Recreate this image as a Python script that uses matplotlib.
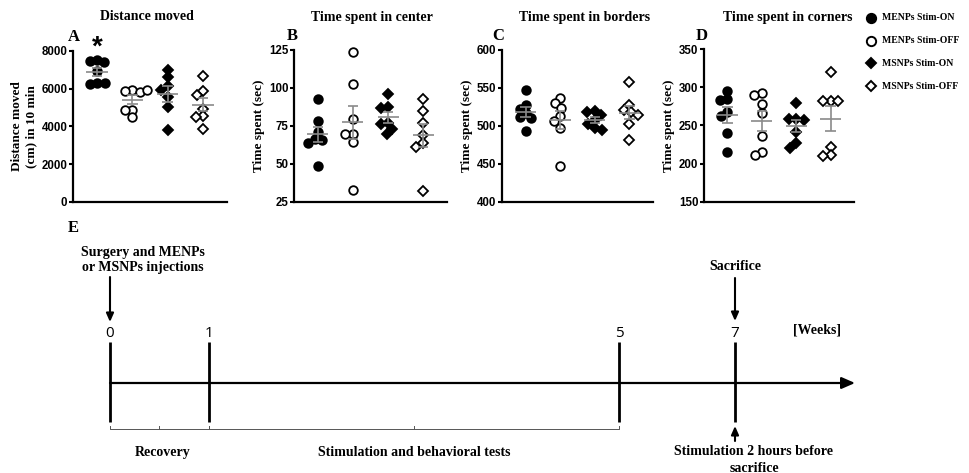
import numpy as np
import matplotlib
matplotlib.use("Agg")
from matplotlib import pyplot as plt

# groups and their marker styles
groups = ["MENPs Stim-ON", "MENPs Stim-OFF", "MSNPs Stim-ON", "MSNPs Stim-OFF"]

# A - distance moved (cm) in 10 min
dist_menp_on = [7500, 7450, 7400, 6950, 6300, 6250, 6300]
dist_menp_off = [5950, 5900, 5850, 5950, 4900, 4850, 4500]
dist_msnp_on = [7000, 6600, 6130, 5950, 5560, 5030, 3800]
dist_msnp_off = [6700, 5900, 5650, 4950, 4540, 4500, 3890]

# B - time spent in center (sec)
center_menp_on = [92.5, 78, 71, 66.5, 66, 64, 49]
center_menp_off = [123.5, 102.5, 79.5, 69.5, 69.5, 64.5, 33]
center_msnp_on = [96, 87.5, 87, 77, 76, 73, 69.5]
center_msnp_off = [93, 85, 77, 69, 63.5, 61.5, 32.5]

# C - time spent in borders (sec)
border_menp_on = [547, 528, 522, 517, 512, 510, 494]
border_menp_off = [537, 530, 524, 513, 507, 497, 447]
border_msnp_on = [520, 519, 514, 508, 503, 497, 495]
border_msnp_off = [558, 528, 521, 518, 514, 502, 482]

# D - time spent in corners (sec)
corner_menp_on = [295, 285, 283, 268, 262, 240, 216]
corner_menp_off = [292, 290, 278, 266, 236, 216, 211]
corner_msnp_on = [279, 259, 258, 257, 242, 227, 221]
corner_msnp_off = [320, 282, 282, 282, 222, 212, 210]

panels = [
    ("A", "Distance moved", "Distance moved\n(cm) in 10 min",
     [dist_menp_on, dist_menp_off, dist_msnp_on, dist_msnp_off], (0, 8000), [0, 2000, 4000, 6000, 8000]),
    ("B", "Time spent in center", "Time spent (sec)",
     [center_menp_on, center_menp_off, center_msnp_on, center_msnp_off], (25, 125), [25, 50, 75, 100, 125]),
    ("C", "Time spent in borders", "Time spent (sec)",
     [border_menp_on, border_menp_off, border_msnp_on, border_msnp_off], (400, 600), [400, 450, 500, 550, 600]),
    ("D", "Time spent in corners", "Time spent (sec)",
     [corner_menp_on, corner_menp_off, corner_msnp_on, corner_msnp_off], (150, 350), [150, 200, 250, 300, 350]),
]

# timeline (panel E)
weeks = ["0", "1", "5", "7"]
week_x = [110, 209, 619, 735]   # schematic, not to scale
periods = ["Recovery", "Stimulation and behavioral tests"]

styles = [("o", "black", 6.2), ("o", "white", 6.2), ("D", "black", 5.0), ("D", "white", 5.0)]

SERIF = "Liberation Serif"
SANS = "Liberation Sans"
W, H = 970, 473

fig = plt.figure(figsize=(W / 100, H / 100), dpi=100)


def rect(l, r, t, b):
    return [l / W, 1 - b / H, (r - l) / W, (b - t) / H]


def swarm(ax, xc, vals, diam):
    pts = ax.transData.transform(np.column_stack([np.full(len(vals), xc), vals]))
    placed = []
    xs = []
    for y in pts[:, 1]:
        cands = [0.0]
        for cx, cy in placed:
            dy = abs(y - cy)
            if dy < diam:
                w = np.sqrt(diam ** 2 - dy ** 2)
                cands += [cx - w, cx + w]
        cands.sort(key=abs)
        for c in cands:
            if all((c - cx) ** 2 + (y - cy) ** 2 >= diam ** 2 - 1e-6 for cx, cy in placed):
                break
        placed.append((c, y))
        xs.append(pts[0, 0] + c)
    back = ax.transData.inverted().transform(np.column_stack([xs, pts[:, 1]]))
    return back[:, 0]


rects = [rect(73, 227, 51, 202), rect(294, 447, 50, 202), rect(502, 653, 50, 202), rect(704, 854, 49, 202)]
title_xy = [(147, 17), (372, 17), (585, 17), (788, 17)]
letter_xy = [(74, 37), (292, 36), (498, 36), (702, 36)]

# overlay in pixel coordinates for labels, legend and timeline
ov = fig.add_axes([0, 0, 1, 1], zorder=-1)
ov.set_xlim(0, W)
ov.set_ylim(H, 0)
ov.axis("off")

for (letter, title, ylab, data, ylim, yticks), r, txy, lxy in zip(panels, rects, title_xy, letter_xy):
    ax = fig.add_axes(r)
    ax.set_xlim(-0.68, 3.68)
    ax.set_ylim(*ylim)
    for i, vals in enumerate(data):
        m, fc, ms = styles[i]
        xs = swarm(ax, i, vals, 7.5)
        ax.plot(xs, vals, m, ms=ms, mfc=fc, mec="black", mew=1.3, ls="none", zorder=3, clip_on=False)
        mean = np.mean(vals)
        sem = np.std(vals, ddof=1) / np.sqrt(len(vals))
        ax.hlines(mean, i - 0.3, i + 0.3, color="#8a8a8a", lw=1.2, zorder=4)
        ax.hlines([mean - sem, mean + sem], i - 0.15, i + 0.15, color="#8a8a8a", lw=1.2, zorder=4)
        ax.vlines(i, mean - sem, mean + sem, color="#8a8a8a", lw=1.2, zorder=4)
    ax.spines[["top", "right"]].set_visible(False)
    ax.spines[["left", "bottom"]].set_linewidth(1.6)
    ax.set_xticks([])
    ax.set_yticks(yticks)
    ax.tick_params(axis="y", length=3, width=1.5, pad=1, labelsize=8.3)
    for t in ax.get_yticklabels():
        t.set_fontfamily(SANS)
        t.set_fontweight("bold")
    ax.set_ylabel(ylab, fontfamily=SERIF, fontweight="bold", fontsize=9.5, labelpad=3)
    ov.text(*txy, title, ha="center", va="center", fontfamily=SERIF, fontweight="bold", fontsize=10)
    ov.text(*lxy, letter, ha="center", va="center", fontfamily=SERIF, fontweight="bold", fontsize=12)
    if letter == "A":
        ov.text(97, 48, "*", ha="center", va="center", fontfamily=SANS, fontweight="bold", fontsize=20)

for k, (name, (m, fc, ms)) in enumerate(zip(groups, styles)):
    y = 18 + k * 22.7
    ov.plot(871, y, m, ms=ms + 0.5, mfc=fc, mec="black", mew=1.4)
    ov.text(882, y, name, ha="left", va="center", fontfamily=SERIF, fontweight="bold", fontsize=7)

ov.text(73, 228, "E", ha="center", va="center", fontfamily=SERIF, fontweight="bold", fontsize=12)

line_y = 383
ov.annotate("", xy=(855, line_y), xytext=(week_x[0], line_y),
            arrowprops=dict(arrowstyle="-|>,head_length=0.8,head_width=0.35", color="black", lw=1.6,
                            shrinkA=0, shrinkB=0))
for wk, x in zip(weeks, week_x):
    ov.plot([x, x], [342, 422], color="black", lw=2.0, solid_capstyle="butt")
    ov.text(x, 333, wk, ha="center", va="center", fontfamily="Open Sans", fontsize=11)
ov.text(817, 330, "[Weeks]", ha="center", va="center", fontfamily=SERIF, fontweight="bold", fontsize=10)

# brackets under the periods
for (a, b), lab in zip([(week_x[0], week_x[1]), (week_x[1], week_x[2])], periods):
    ov.plot([a, a, b, b], [426, 429, 429, 426], color="#555555", lw=0.7)
    ov.plot([(a + b) / 2] * 2, [429, 426], color="#555555", lw=0.7)
    ov.text((a + b) / 2 - (0 if lab != "Recovery" else -3), 452, lab, ha="center", va="center",
            fontfamily=SERIF, fontweight="bold", fontsize=10)

arrow = dict(arrowstyle="-|>,head_length=0.5,head_width=0.22", color="black", lw=1.5, shrinkA=0, shrinkB=0)
ov.text(143, 252, "Surgery and MENPs", ha="center", va="center", fontfamily=SERIF, fontweight="bold", fontsize=10)
ov.text(143, 267, "or MSNPs injections", ha="center", va="center", fontfamily=SERIF, fontweight="bold", fontsize=10)
ov.annotate("", xy=(week_x[0], 322), xytext=(week_x[0], 277), arrowprops=arrow)

ov.text(week_x[3], 266, "Sacrifice", ha="center", va="center", fontfamily=SERIF, fontweight="bold", fontsize=10)
ov.annotate("", xy=(week_x[3], 321), xytext=(week_x[3], 278), arrowprops=arrow)

ov.annotate("", xy=(week_x[3], 426), xytext=(week_x[3], 441), arrowprops=arrow)
ov.text(754, 451, "Stimulation 2 hours before", ha="center", va="center", fontfamily=SERIF, fontweight="bold", fontsize=10)
ov.text(754, 468, "sacrifice", ha="center", va="center", fontfamily=SERIF, fontweight="bold", fontsize=10)

fig.savefig("out.png", dpi=100)
